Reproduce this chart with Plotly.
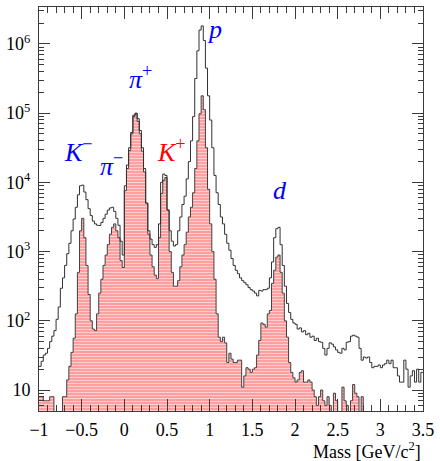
import numpy as np
import plotly.graph_objects as go

# ---------------- data ----------------
BIN_LO = -1.0
BIN_WIDTH = 0.025

# all tracks (black outline), counts per bin
all_counts = [
    22, 26, 32, 34, 40, 50, 60, 72, 105, 158,
    295, 417, 631, 933, 1318, 1995, 2951, 4365, 6607, 8913,
    9120, 7244, 5623, 4169, 3311, 2754, 2512, 2399, 2380, 2630,
    3020, 3467, 3981, 4266, 4365, 3802, 3020, 2399, 1413, 891,
    8913, 17783, 31623, 52481, 93325, 100000, 83176, 56234, 31623, 15849,
    5012, 1995, 1514, 1259, 1148, 1259, 2512, 10000, 13183, 12589,
    3981, 1995, 1413, 1202, 1259, 1995, 3162, 4786, 6310, 11220,
    19953, 39811, 89125, 316228, 794328, 1584893, 1819701, 1122018, 446684, 177828,
    79433, 31623, 12589, 7079, 4786, 3162, 2512, 1778, 1318, 1047,
    794, 631, 537, 479, 417, 380, 355, 331, 302, 282,
    269, 251, 229, 275, 269, 282, 282, 295, 417, 708,
    1585, 2138, 2239, 1259, 631, 316, 178, 132, 105, 93,
    89, 76, 79, 69, 72, 63, 66, 58, 60, 52,
    56, 50, 49, 40, 32, 40, 48, 46, 42, 38,
    35, 34, 40, 38, 49, 50, 60, 62, 60, 58,
    40, 27, 30, 29, 30, 25, 21, 22, 22, 23,
    21, 23, 24, 27, 24, 27, 21, 21, 16, 13,
    13, 27, 20, 11, 16, 19, 13, 20, 13, 18,
]

# selected tracks (red hatched)
sel_counts = [
    8, 8, 7, 7, 7, 8, 8, 0, 0, 0,
    0, 8, 8, 14, 22, 35, 56, 126, 501, 1995,
    3020, 1585, 631, 240, 100, 76, 72, 126, 251, 398,
    631, 891, 1259, 1778, 2239, 2512, 1995, 1585, 741, 589,
    7586, 15849, 28840, 50119, 89125, 97724, 75858, 50119, 28184, 14125,
    5012, 1778, 891, 603, 457, 407, 1585, 6918, 10715, 11749,
    3981, 1000, 501, 316, 316, 380, 603, 891, 1259, 1905,
    3162, 4365, 7079, 15849, 39811, 97724, 177828, 112202, 31623, 7943,
    2512, 1000, 398, 126, 58, 50, 58, 48, 25, 34,
    28, 25, 25, 27, 27, 11, 16, 21, 20, 18,
    20, 21, 32, 52, 93, 89, 81, 126, 141, 347,
    537, 832, 891, 501, 251, 100, 58, 25, 18, 15,
    13, 14, 18, 19, 13, 13, 14, 13, 10, 8,
    6, 8, 10, 7, 6, 8, 6, 0, 9, 7,
    0, 0, 11, 7, 6, 0, 7, 12, 9, 8,
    0, 8, 0, 0, 0, 0, 0, 0, 0, 0,
    0, 0, 0, 0, 0, 0, 0, 0, 0, 0,
    0, 0, 0, 0, 0, 0, 0, 0, 0, 0,
]

x_tick_vals = [-1, -0.5, 0, 0.5, 1, 1.5, 2, 2.5, 3, 3.5]
x_tick_text = ["\u22121", "\u22120.5", "0", "0.5", "1", "1.5", "2", "2.5", "3", "3.5"]
y_tick_vals = [10, 100, 1000, 10000, 100000, 1000000]
y_tick_text = ["10", "10<sup>2</sup>", "10<sup>3</sup>", "10<sup>4</sup>",
               "10<sup>5</sup>", "10<sup>6</sup>"]

# ---------------- figure ----------------
n = len(all_counts)
edges = BIN_LO + BIN_WIDTH * np.arange(n + 1)
FLOOR = 0.1  # empty bins drawn below the visible range


def step_y(counts):
    c = np.array(counts, dtype=float)
    c = np.where(c > 0, c, FLOOR)
    return np.append(c, c[-1])


FRAME = "#3a3a3a"
SERIF = "Liberation Serif"

fig = go.Figure()
fig.add_trace(go.Scatter(
    x=edges, y=step_y(sel_counts), mode="lines", line_shape="hv",
    line=dict(color="#404040", width=1),
    fill="tozeroy",
    fillpattern=dict(shape="-", fgcolor="#ffffff", bgcolor="#ff9f9f",
                     size=3, solidity=0.34),
    hoverinfo="skip", showlegend=False,
))
fig.add_trace(go.Scatter(
    x=edges, y=step_y(all_counts), mode="lines", line_shape="hv",
    line=dict(color="#303030", width=1),
    hoverinfo="skip", showlegend=False,
))

L, R, T, B = 39, 13, 6, 50
W, H = 440, 461
pw, ph = W - L - R, H - T - B


def px(xp):
    return (xp - L) / pw


def py(yp):
    return (H - B - yp) / ph


labels = [
    ("<i>K</i><sup>\u2212</sup>", 79, 150, "#0000ff"),
    ("<i>\u03c0</i><sup>\u2212</sup>", 112, 164, "#0000ff"),
    ("<i>\u03c0</i><sup>+</sup>", 142, 77, "#0000ff"),
    ("<i>K</i><sup>+</sup>", 173, 150, "#ff0000"),
    ("<i>p</i>", 216, 29, "#0000ff"),
    ("<i>d</i>", 283, 190, "#0000ff"),
]
annotations = []
for txt, xp, yp, col in labels:
    annotations.append(dict(
        text=txt, x=px(xp), y=py(yp), xref="paper", yref="paper",
        xanchor="center", yanchor="middle", showarrow=False,
        font=dict(family=SERIF, size=26, color=col),
    ))
annotations.append(dict(
    text="Mass [GeV/c<sup>2</sup>]", x=px(427), y=py(451), xref="paper", yref="paper",
    xanchor="right", yanchor="middle", showarrow=False,
    font=dict(family=SERIF, size=18, color="black"),
))

fig.update_layout(
    width=W, height=H,
    margin=dict(l=L, r=R, t=T, b=B, pad=0),
    paper_bgcolor="white", plot_bgcolor="white",
    annotations=annotations,
    xaxis=dict(
        range=[-1, 3.5], tickmode="array", tickvals=x_tick_vals, ticktext=x_tick_text,
        ticks="inside", ticklen=12, tickwidth=1, tickcolor=FRAME,
        showline=True, linecolor=FRAME, linewidth=1, mirror="ticks",
        showgrid=False, zeroline=False,
        minor=dict(ticks="inside", dtick=0.1, tick0=0, ticklen=6, tickcolor=FRAME,
                   showgrid=False),
        tickfont=dict(family=SERIF, size=18, color="black"),
        ticklabelstandoff=2,
    ),
    yaxis=dict(
        type="log", range=[0.697, 6.533],
        tickmode="array", tickvals=y_tick_vals, ticktext=y_tick_text,
        ticks="inside", ticklen=11, tickwidth=1, tickcolor=FRAME,
        showline=True, linecolor=FRAME, linewidth=1, mirror="ticks",
        showgrid=False, zeroline=False,
        minor=dict(ticks="inside", dtick="D1", ticklen=5, tickcolor=FRAME,
                   showgrid=False),
        tickfont=dict(family=SERIF, size=18, color="black"),
        ticklabelstandoff=4,
    ),
)

fig.write_html("out.html")
